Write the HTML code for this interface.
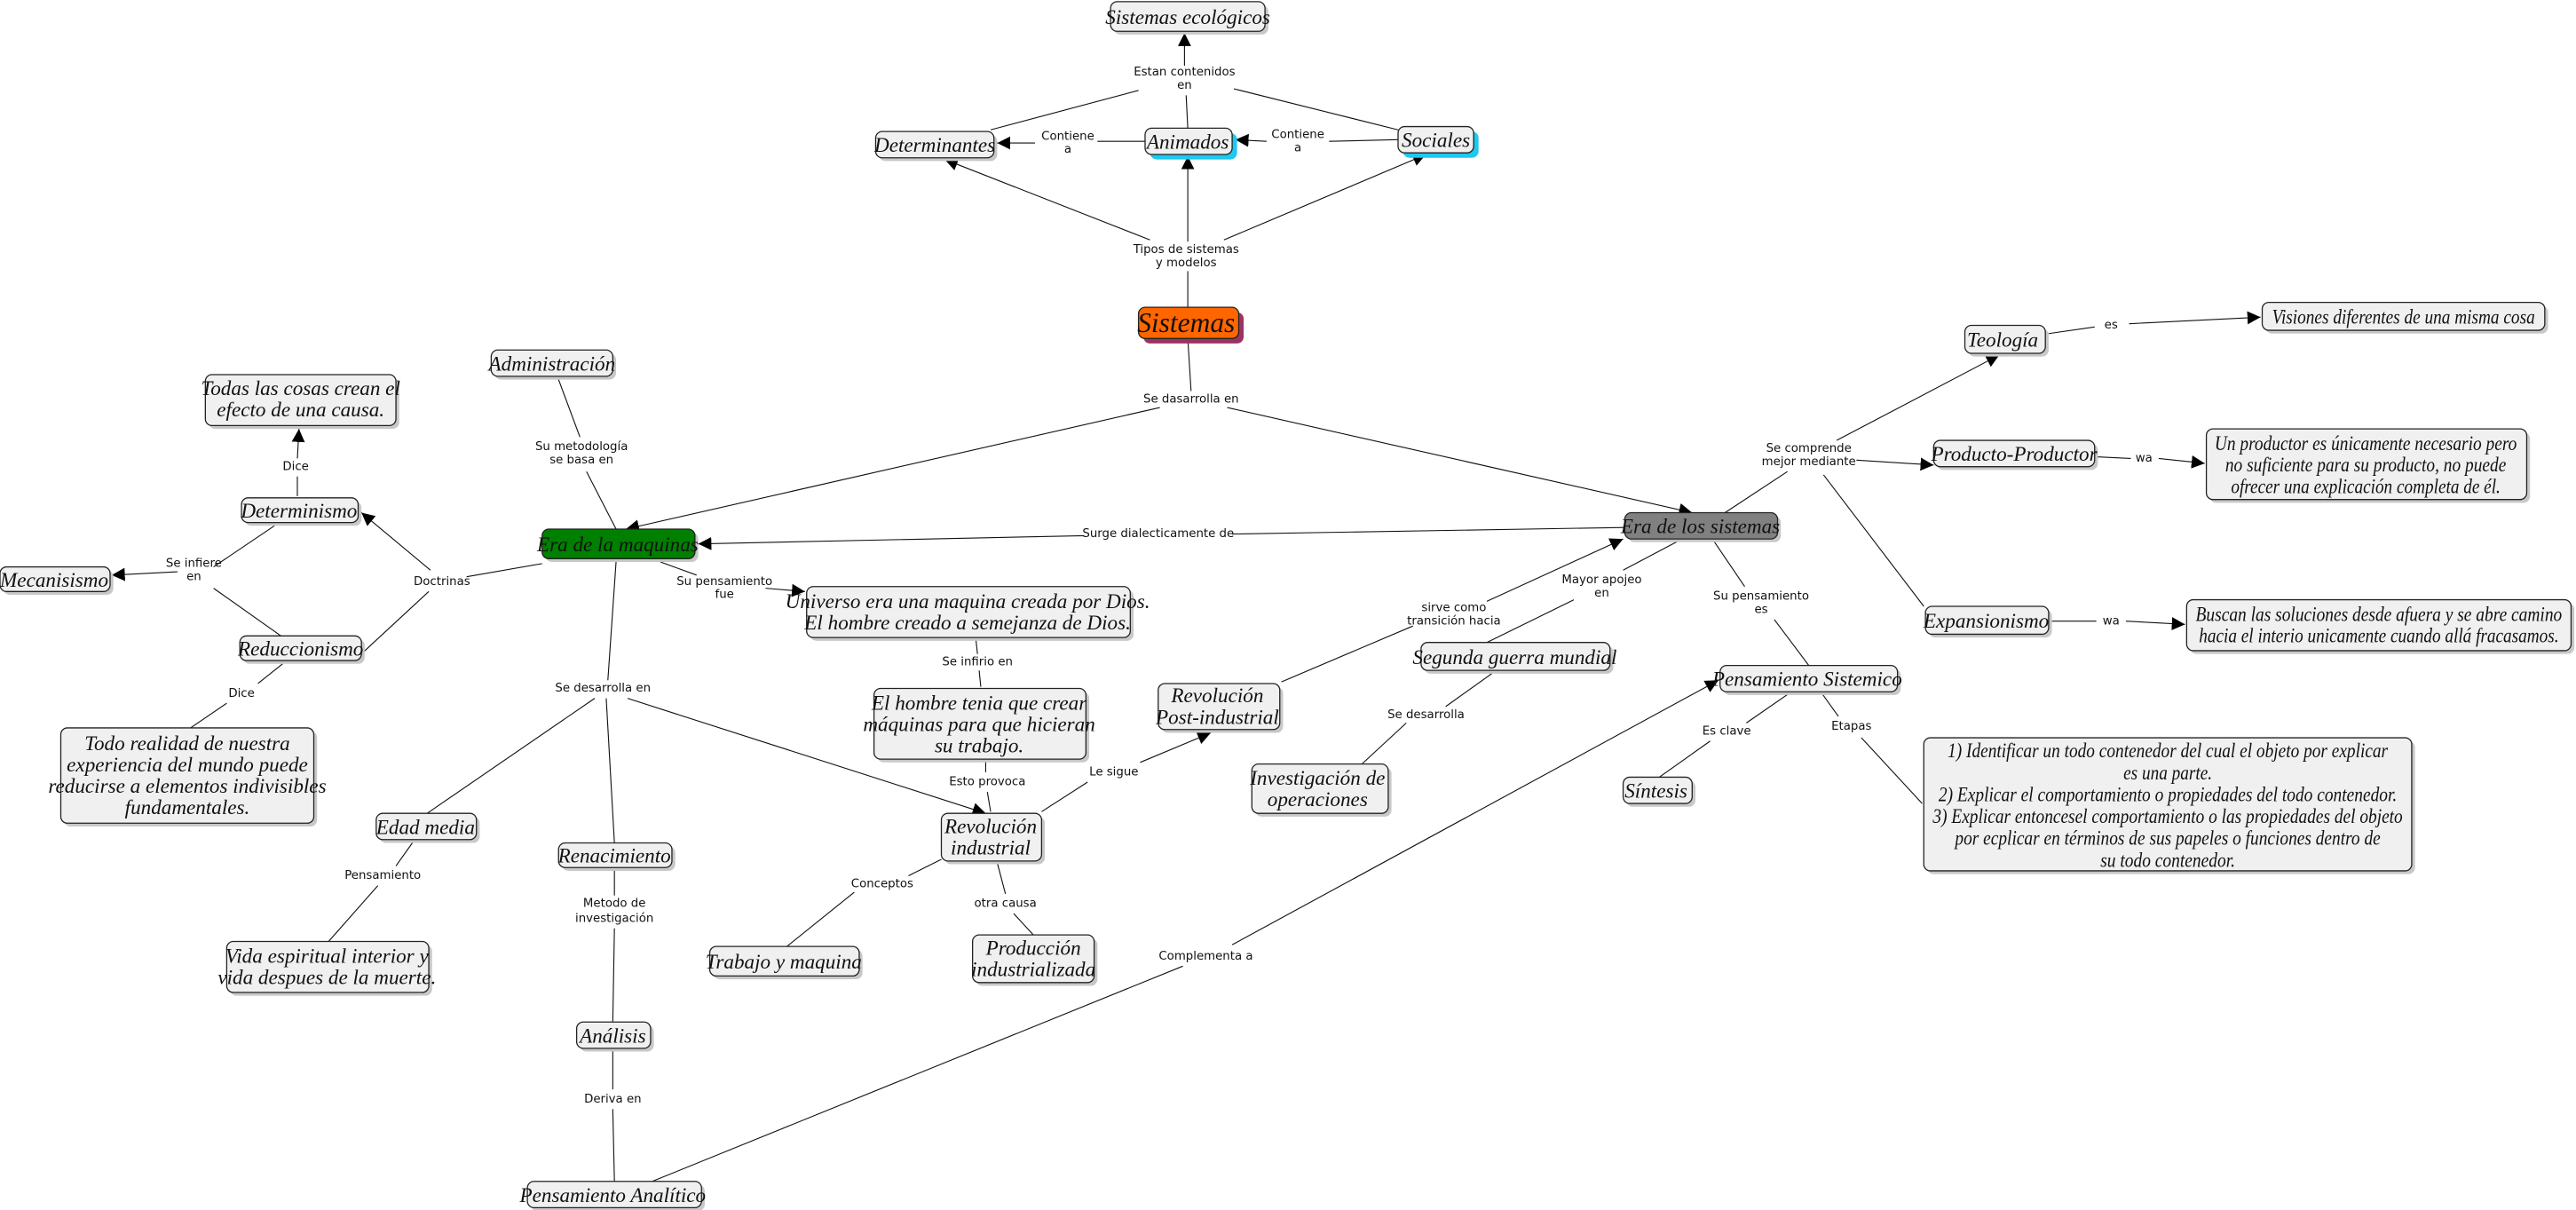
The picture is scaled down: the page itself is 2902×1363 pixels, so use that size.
<!DOCTYPE html>
<html><head><meta charset="utf-8"><style>
html,body{margin:0;padding:0;background:#fff;}
svg{display:block;}
.b{fill:#f0f0f0;stroke:#222;stroke-width:0.7;}
.s{fill:#c8c8c8;}
.t{font-family:"Liberation Serif",serif;font-style:italic;font-size:12.5px;fill:#111;text-anchor:middle;}
.l{font-family:"DejaVu Sans","Liberation Sans",sans-serif;font-size:7.2px;fill:#111;text-anchor:middle;}
line,path.c{stroke:#111;stroke-width:0.6;fill:none;}
</style></head><body>
<svg width="2902" height="1363" viewBox="0 0 1568 736.4" xmlns="http://www.w3.org/2000/svg">
<defs><marker id="a" markerUnits="userSpaceOnUse" markerWidth="9" markerHeight="8" refX="8" refY="4" orient="auto"><path d="M0,0 L8,4 L0,8 z" fill="#000"/></marker></defs>

<!-- connectors -->
<line x1="603" y1="79" x2="693" y2="55"/>
<line x1="723" y1="78" x2="722" y2="58"/>
<line x1="721" y1="40" x2="721" y2="20" marker-end="url(#a)"/>
<line x1="851" y1="79" x2="751" y2="54"/>
<line x1="697" y1="86" x2="668" y2="86"/>
<line x1="630" y1="87" x2="607" y2="87" marker-end="url(#a)"/>
<line x1="851" y1="85" x2="809" y2="86"/>
<line x1="771" y1="86" x2="752" y2="85" marker-end="url(#a)"/>
<line x1="723" y1="187" x2="723" y2="165"/>
<line x1="700" y1="146" x2="575" y2="97" marker-end="url(#a)"/>
<line x1="723" y1="147" x2="723" y2="95" marker-end="url(#a)"/>
<line x1="745" y1="146" x2="868" y2="94" marker-end="url(#a)"/>
<line x1="723" y1="206" x2="725" y2="238"/>
<line x1="706" y1="248" x2="381" y2="322" marker-end="url(#a)"/>
<line x1="747" y1="248" x2="1030" y2="312" marker-end="url(#a)"/>
<line x1="989" y1="321" x2="750" y2="325"/>
<line x1="660" y1="326" x2="425" y2="331" marker-end="url(#a)"/>
<line x1="340" y1="231" x2="353" y2="266"/>
<line x1="357" y1="287" x2="375" y2="322"/>
<line x1="330" y1="343" x2="284" y2="351"/>
<line x1="262" y1="347" x2="220" y2="312" marker-end="url(#a)"/>
<line x1="261" y1="360" x2="221" y2="397"/>
<line x1="181" y1="302" x2="181" y2="290"/>
<line x1="181" y1="279" x2="182" y2="261" marker-end="url(#a)"/>
<line x1="167" y1="320" x2="130" y2="345"/>
<line x1="108" y1="348" x2="68" y2="350" marker-end="url(#a)"/>
<line x1="130" y1="358" x2="171" y2="387"/>
<line x1="172" y1="404" x2="157" y2="416"/>
<line x1="138" y1="428" x2="116" y2="443"/>
<line x1="402" y1="342" x2="424" y2="350"/>
<line x1="466" y1="358" x2="490" y2="360" marker-end="url(#a)"/>
<line x1="594" y1="389" x2="595" y2="398"/>
<line x1="596" y1="408" x2="597" y2="418"/>
<line x1="600" y1="463" x2="600" y2="470"/>
<line x1="601" y1="482" x2="603" y2="494"/>
<line x1="375" y1="342" x2="370" y2="414"/>
<line x1="362" y1="425" x2="260" y2="495"/>
<line x1="369" y1="425" x2="374" y2="513"/>
<line x1="382" y1="425" x2="600" y2="495" marker-end="url(#a)"/>
<line x1="251" y1="513" x2="241" y2="527"/>
<line x1="230" y1="539" x2="200" y2="573"/>
<line x1="374" y1="529" x2="374" y2="545"/>
<line x1="374" y1="565" x2="373" y2="622"/>
<line x1="373" y1="639" x2="373" y2="663"/>
<line x1="373" y1="675" x2="374" y2="719"/>
<line x1="397" y1="719" x2="720" y2="588"/>
<line x1="750" y1="575" x2="1046" y2="414" marker-end="url(#a)"/>
<line x1="634" y1="494" x2="662" y2="476"/>
<line x1="694" y1="464" x2="737" y2="446" marker-end="url(#a)"/>
<line x1="573" y1="523" x2="553" y2="533"/>
<line x1="520" y1="543" x2="479" y2="576"/>
<line x1="607" y1="525" x2="612" y2="544"/>
<line x1="617" y1="556" x2="629" y2="569"/>
<line x1="780" y1="415" x2="860" y2="381"/>
<line x1="905" y1="366" x2="988" y2="328" marker-end="url(#a)"/>
<line x1="905" y1="391" x2="958" y2="365"/>
<line x1="988" y1="347" x2="1022" y2="329"/>
<line x1="908" y1="410" x2="880" y2="430"/>
<line x1="856" y1="440" x2="829" y2="465"/>
<line x1="1043" y1="329" x2="1062" y2="357"/>
<line x1="1080" y1="377" x2="1101" y2="405"/>
<line x1="1050" y1="312" x2="1088" y2="287"/>
<line x1="1118" y1="268" x2="1217" y2="216" marker-end="url(#a)"/>
<line x1="1130" y1="280" x2="1177" y2="283" marker-end="url(#a)"/>
<line x1="1110" y1="289" x2="1171" y2="369"/>
<line x1="1247" y1="203" x2="1275" y2="199"/>
<line x1="1296" y1="197" x2="1376" y2="193" marker-end="url(#a)"/>
<line x1="1276" y1="278" x2="1297" y2="279"/>
<line x1="1314" y1="279" x2="1342" y2="282" marker-end="url(#a)"/>
<line x1="1249" y1="378" x2="1276" y2="378"/>
<line x1="1294" y1="378" x2="1330" y2="380" marker-end="url(#a)"/>
<line x1="1089" y1="422" x2="1063" y2="440"/>
<line x1="1041" y1="451" x2="1010" y2="473"/>
<line x1="1109" y1="422" x2="1119" y2="436"/>
<line x1="1133" y1="449" x2="1170" y2="489"/>

<!-- link labels -->
<text class="l" x="721" y="46">Estan contenidos</text><text class="l" x="721" y="54">en</text>
<text class="l" x="650" y="85">Contiene</text><text class="l" x="650" y="93">a</text>
<text class="l" x="790" y="84">Contiene</text><text class="l" x="790" y="92">a</text>
<text class="l" x="722" y="154">Tipos de sistemas</text><text class="l" x="722" y="162">y modelos</text>
<text class="l" x="725" y="245">Se dasarrolla en</text>
<text class="l" x="705" y="327">Surge dialecticamente de</text>
<text class="l" x="354" y="274">Su metodología</text><text class="l" x="354" y="282">se basa en</text>
<text class="l" x="269" y="356">Doctrinas</text>
<text class="l" x="180" y="286">Dice</text>
<text class="l" x="118" y="345">Se infiere</text><text class="l" x="118" y="353">en</text>
<text class="l" x="147" y="424">Dice</text>
<text class="l" x="441" y="356">Su pensamiento</text><text class="l" x="441" y="364">fue</text>
<text class="l" x="595" y="405">Se infirio en</text>
<text class="l" x="601" y="478">Esto provoca</text>
<text class="l" x="367" y="421">Se desarrolla en</text>
<text class="l" x="233" y="535">Pensamiento</text>
<text class="l" x="374" y="552">Metodo de</text><text class="l" x="374" y="561">investigación</text>
<text class="l" x="373" y="671">Deriva en</text>
<text class="l" x="734" y="584">Complementa a</text>
<text class="l" x="678" y="472">Le sigue</text>
<text class="l" x="537" y="540">Conceptos</text>
<text class="l" x="612" y="552">otra causa</text>
<text class="l" x="885" y="372">sirve como</text><text class="l" x="885" y="380">transición hacia</text>
<text class="l" x="975" y="355">Mayor apojeo</text><text class="l" x="975" y="363">en</text>
<text class="l" x="868" y="437">Se desarrolla</text>
<text class="l" x="1072" y="365">Su pensamiento</text><text class="l" x="1072" y="373">es</text>
<text class="l" x="1101" y="275">Se comprende</text><text class="l" x="1101" y="283">mejor mediante</text>
<text class="l" x="1285" y="200">es</text>
<text class="l" x="1305" y="281">wa</text>
<text class="l" x="1285" y="380">wa</text>
<text class="l" x="1051" y="447">Es clave</text>
<text class="l" x="1127" y="444">Etapas</text>

<!-- nodes -->
<g>
<rect class="s" x="678" y="3" width="94" height="18" rx="4"/>
<rect class="b" x="676" y="1" width="94" height="18" rx="4"/>
<text class="t" x="723" y="14.5">Sistemas ecológicos</text>

<rect class="s" x="535" y="82" width="72" height="16" rx="4"/>
<rect class="b" x="533" y="80" width="72" height="16" rx="4"/>
<text class="t" x="569" y="92.5">Determinantes</text>

<rect x="700" y="81" width="53" height="16" rx="4" fill="#1ec8f0"/>
<rect class="b" x="697" y="78" width="53" height="16" rx="4"/>
<text class="t" x="723" y="90.5">Animados</text>

<rect x="854" y="80" width="46" height="16" rx="4" fill="#1ec8f0"/>
<rect class="b" x="851" y="77" width="46" height="16" rx="4"/>
<text class="t" x="874" y="89.5">Sociales</text>

<rect x="696" y="190" width="61" height="19" rx="4" fill="#993366"/>
<rect x="693" y="187" width="61" height="19" rx="4" fill="#ff6600" stroke="#222" stroke-width="0.7"/>
<text class="t" x="722" y="202" style="font-size:17px">Sistemas</text>

<rect class="s" x="301" y="215" width="74" height="16" rx="4"/>
<rect class="b" x="299" y="213" width="74" height="16" rx="4"/>
<text class="t" x="336" y="225.5">Administración</text>

<rect class="s" x="127" y="230" width="116" height="31" rx="4"/>
<rect class="b" x="125" y="228" width="116" height="31" rx="4"/>
<text class="t" x="183" y="240.5">Todas las cosas crean el</text>
<text class="t" x="183" y="253.5">efecto de una causa.</text>

<rect class="s" x="149" y="305" width="71" height="15" rx="4"/>
<rect class="b" x="147" y="303" width="71" height="15" rx="4"/>
<text class="t" x="182" y="315">Determinismo</text>

<rect class="s" x="2" y="347" width="67" height="15" rx="4"/>
<rect class="b" x="0" y="345" width="67" height="15" rx="4"/>
<text class="t" x="33" y="357">Mecanisismo</text>

<rect class="s" x="148" y="389" width="74" height="15" rx="4"/>
<rect class="b" x="146" y="387" width="74" height="15" rx="4"/>
<text class="t" x="183" y="399">Reduccionismo</text>

<rect class="s" x="39" y="445" width="154" height="58" rx="4"/>
<rect class="b" x="37" y="443" width="154" height="58" rx="4"/>
<text class="t" x="114" y="456.5">Todo realidad de nuestra</text>
<text class="t" x="114" y="469.5">experiencia del mundo puede</text>
<text class="t" x="114" y="482.5">reducirse a elementos indivisibles</text>
<text class="t" x="114" y="495.5">fundamentales.</text>

<rect class="s" x="332" y="324" width="93" height="18" rx="4"/>
<rect x="330" y="322" width="93" height="18" rx="4" fill="#007f00" stroke="#222" stroke-width="0.7"/>
<text class="t" x="376" y="335.5">Era de la maquinas</text>

<rect class="s" x="493" y="359" width="197" height="31" rx="4"/>
<rect class="b" x="491" y="357" width="197" height="31" rx="4"/>
<text class="t" x="589" y="370">Universo era una maquina creada por Dios.</text>
<text class="t" x="589" y="383">El hombre creado a semejanza de Dios.</text>

<rect class="s" x="534" y="421" width="129" height="43" rx="4"/>
<rect class="b" x="532" y="419" width="129" height="43" rx="4"/>
<text class="t" x="596" y="432">El hombre tenia que crear</text>
<text class="t" x="596" y="445">máquinas para que hicieran</text>
<text class="t" x="596" y="458">su trabajo.</text>

<rect class="s" x="575" y="497" width="61" height="29" rx="4"/>
<rect class="b" x="573" y="495" width="61" height="29" rx="4"/>
<text class="t" x="603" y="507">Revolución</text>
<text class="t" x="603" y="520">industrial</text>

<rect class="s" x="231" y="497" width="61" height="16" rx="4"/>
<rect class="b" x="229" y="495" width="61" height="16" rx="4"/>
<text class="t" x="259" y="507.5">Edad media</text>

<rect class="s" x="342" y="515" width="69" height="15" rx="4"/>
<rect class="b" x="340" y="513" width="69" height="15" rx="4"/>
<text class="t" x="374" y="525">Renacimiento</text>

<rect class="s" x="140" y="575" width="123" height="31" rx="4"/>
<rect class="b" x="138" y="573" width="123" height="31" rx="4"/>
<text class="t" x="199" y="586">Vida espiritual interior y</text>
<text class="t" x="199" y="599">vida despues de la muerte.</text>

<rect class="s" x="434" y="578" width="91" height="18" rx="4"/>
<rect class="b" x="432" y="576" width="91" height="18" rx="4"/>
<text class="t" x="477" y="589.5">Trabajo y maquina</text>

<rect class="s" x="594" y="571" width="74" height="29" rx="4"/>
<rect class="b" x="592" y="569" width="74" height="29" rx="4"/>
<text class="t" x="629" y="581">Producción</text>
<text class="t" x="629" y="594">industrializada</text>

<rect class="s" x="353" y="624" width="45" height="16" rx="4"/>
<rect class="b" x="351" y="622" width="45" height="16" rx="4"/>
<text class="t" x="373" y="634.5">Análisis</text>

<rect class="s" x="323" y="721" width="106" height="16" rx="4"/>
<rect class="b" x="321" y="719" width="106" height="16" rx="4"/>
<text class="t" x="373" y="731.5">Pensamiento Analítico</text>

<rect class="s" x="707" y="418" width="74" height="28" rx="4"/>
<rect class="b" x="705" y="416" width="74" height="28" rx="4"/>
<text class="t" x="741" y="427.5">Revolución</text>
<text class="t" x="741" y="440.5">Post-industrial</text>

<rect class="s" x="764" y="467" width="83" height="30" rx="4"/>
<rect class="b" x="762" y="465" width="83" height="30" rx="4"/>
<text class="t" x="802" y="477.5">Investigación de</text>
<text class="t" x="802" y="490.5">operaciones</text>

<rect class="s" x="867" y="393" width="115" height="17" rx="4"/>
<rect class="b" x="865" y="391" width="115" height="17" rx="4"/>
<text class="t" x="922" y="404">Segunda guerra mundial</text>

<rect class="s" x="991" y="314" width="93" height="16" rx="4"/>
<rect x="989" y="312" width="93" height="16" rx="4" fill="#808080" stroke="#222" stroke-width="0.7"/>
<text class="t" x="1035" y="324.5">Era de los sistemas</text>

<rect class="s" x="1049" y="407" width="108" height="16" rx="4"/>
<rect class="b" x="1047" y="405" width="108" height="16" rx="4"/>
<text class="t" x="1100" y="417.5">Pensamiento Sistemico</text>

<rect class="s" x="990" y="475" width="42" height="16" rx="4"/>
<rect class="b" x="988" y="473" width="42" height="16" rx="4"/>
<text class="t" x="1008" y="485.5">Síntesis</text>

<rect class="s" x="1198" y="200" width="49" height="17" rx="4"/>
<rect class="b" x="1196" y="198" width="49" height="17" rx="4"/>
<text class="t" x="1219" y="211">Teología</text>

<rect class="s" x="1379" y="186" width="172" height="17" rx="4"/>
<rect class="b" x="1377" y="184" width="172" height="17" rx="4"/>
<text class="t" x="1463" y="197" textLength="160" lengthAdjust="spacingAndGlyphs">Visiones diferentes de una misma cosa</text>

<rect class="s" x="1179" y="270" width="98" height="16" rx="4"/>
<rect class="b" x="1177" y="268" width="98" height="16" rx="4"/>
<text class="t" x="1226" y="280.5">Producto-Productor</text>

<rect class="s" x="1345" y="263" width="195" height="43" rx="4"/>
<rect class="b" x="1343" y="261" width="195" height="43" rx="4"/>
<text class="t" x="1440" y="274" textLength="184" lengthAdjust="spacingAndGlyphs">Un productor es únicamente necesario pero</text>
<text class="t" x="1440" y="287" textLength="171" lengthAdjust="spacingAndGlyphs">no suficiente para su producto, no puede</text>
<text class="t" x="1440" y="300" textLength="164" lengthAdjust="spacingAndGlyphs">ofrecer una explicación completa de él.</text>

<rect class="s" x="1174" y="371" width="75" height="17" rx="4"/>
<rect class="b" x="1172" y="369" width="75" height="17" rx="4"/>
<text class="t" x="1209" y="382">Expansionismo</text>

<rect class="s" x="1333" y="367" width="234" height="31" rx="4"/>
<rect class="b" x="1331" y="365" width="234" height="31" rx="4"/>
<text class="t" x="1448" y="378" textLength="223" lengthAdjust="spacingAndGlyphs">Buscan las soluciones desde afuera y se abre camino</text>
<text class="t" x="1448" y="391" textLength="219" lengthAdjust="spacingAndGlyphs">hacia el interio unicamente cuando allá fracasamos.</text>

<rect class="s" x="1173" y="451" width="297" height="81" rx="4"/>
<rect class="b" x="1171" y="449" width="297" height="81" rx="4"/>
<text class="t" x="1319.5" y="461" textLength="268" lengthAdjust="spacingAndGlyphs">1) Identificar un todo contenedor del cual el objeto por explicar</text>
<text class="t" x="1319.5" y="474.3" textLength="54" lengthAdjust="spacingAndGlyphs">es una parte.</text>
<text class="t" x="1319.5" y="487.6" textLength="279" lengthAdjust="spacingAndGlyphs">2) Explicar el comportamiento o propiedades del todo contenedor.</text>
<text class="t" x="1319.5" y="500.9" textLength="286" lengthAdjust="spacingAndGlyphs">3) Explicar entoncesel comportamiento o las propiedades del objeto</text>
<text class="t" x="1319.5" y="514.2" textLength="259" lengthAdjust="spacingAndGlyphs">por ecplicar en términos de sus papeles o funciones dentro de</text>
<text class="t" x="1319.5" y="527.5" textLength="82" lengthAdjust="spacingAndGlyphs">su todo contenedor.</text>
</g>
</svg>
</body></html>
